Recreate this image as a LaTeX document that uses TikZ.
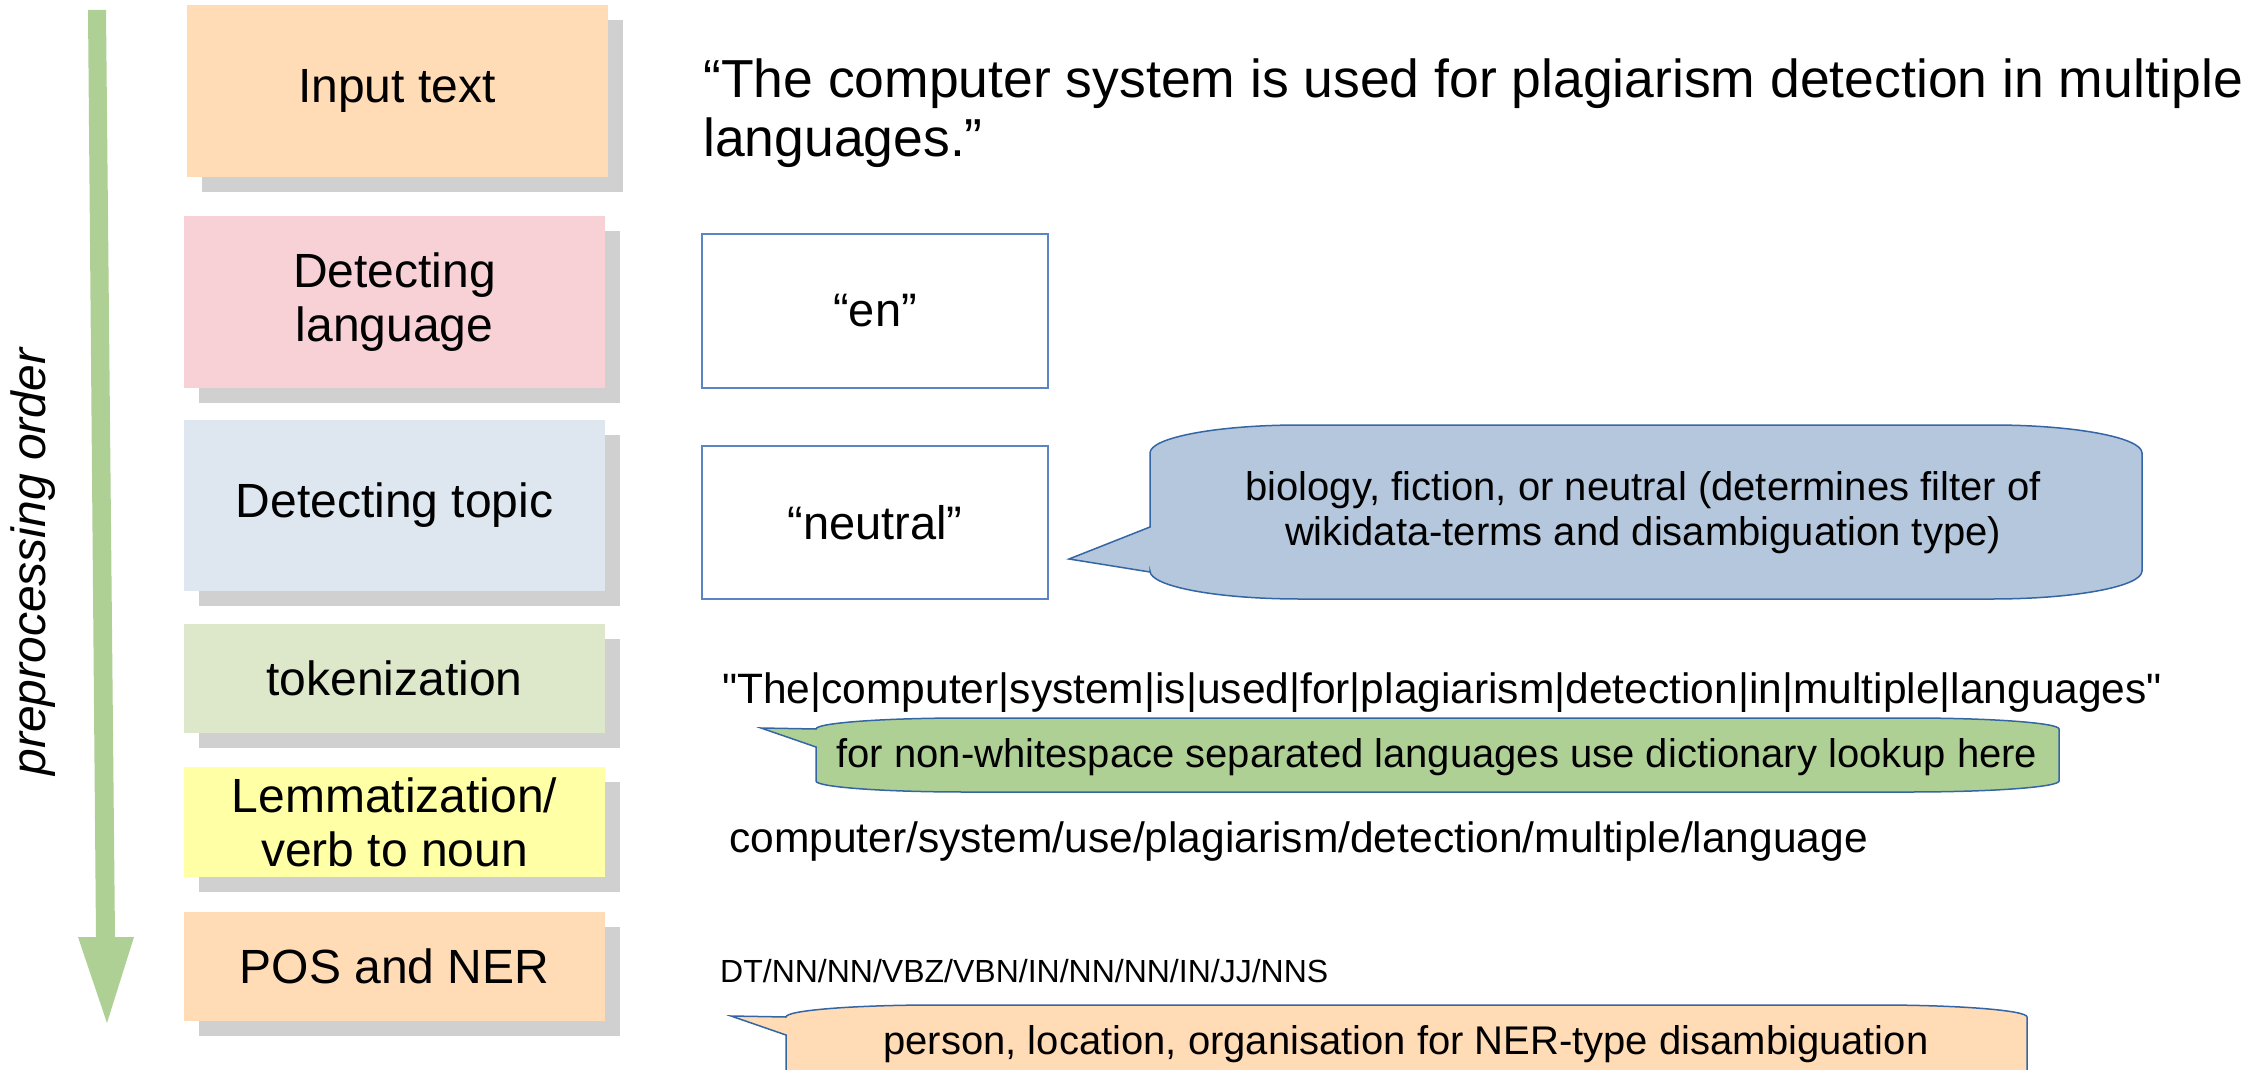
\documentclass[tikz,border=0pt]{standalone}
\usepackage{fontspec}
\setmainfont{Liberation Sans}
\newfontfamily\rawsans{Liberation Sans}[Ligatures=TeXOff]
\usetikzlibrary{shadows}
\definecolor{cpeach}{HTML}{FFDBB6}
\definecolor{cpink}{HTML}{F7D1D5}
\definecolor{cgrayblue}{HTML}{DEE6EF}
\definecolor{cpalegreen}{HTML}{DDE8CB}
\definecolor{cyellow}{HTML}{FFFFA6}
\definecolor{cshadow}{HTML}{D0D0D0}
\definecolor{carrow}{HTML}{AFD095}
\definecolor{cblue}{HTML}{B4C7DC}
\definecolor{cedge}{HTML}{3465A4}
\definecolor{cboxedge}{HTML}{5B84C4}
\begin{document}
\begin{tikzpicture}[x=1pt,y=-1pt,
  stage/.style={draw=none, minimum width=421pt, inner sep=0pt, align=center,
    font=\fontsize{48}{54}\selectfont,
    general shadow={fill=cshadow, shadow xshift=15pt, shadow yshift=-15pt}},
  valbox/.style={draw=cboxedge, line width=1.5pt, minimum width=346pt, inner sep=0pt,
    font=\fontsize{47}{54}\selectfont},
  bubble/.style={draw=cedge, line width=1.5pt},
  bigtext/.style={inner sep=0pt, font=\fontsize{53.5}{58}\selectfont},
  midtext/.style={inner sep=0pt, font=\fontsize{42.5}{49}\selectfont},
  notetext/.style={inner sep=0pt, align=center, font=\fontsize{40}{45}\selectfont},
]
\useasboundingbox (0,0) rectangle (2268,1070);
\clip (0,0) rectangle (2268,1070);

% order arrow
\coordinate (atop) at (97,10);
\coordinate (abot) at (107,1023);
\fill[carrow] (88,10) -- (106,10) -- (115,937) -- (134,937) -- (abot) -- (78,937) -- (96,937) -- cycle;
\node[inner sep=0pt, rotate=90, anchor=base, font=\fontsize{48}{54}\selectfont\itshape] (order) at (45,562) {preprocessing order};

% stage boxes
\node[stage, fill=cpeach, minimum height=172pt] (input) at (397,91) {Input text};
\node[stage, fill=cpink, minimum height=172pt] (lang) at (394.5,302) {Detecting\\language};
\node[stage, fill=cgrayblue, minimum height=171pt] (topic) at (394.5,505.5) {Detecting topic};
\node[stage, fill=cpalegreen, minimum height=109pt] (tok) at (394.5,678.5) {tokenization};
\node[stage, fill=cyellow, minimum height=110pt] (lemma) at (394.5,822) {Lemmatization/\\verb to noun};
\node[stage, fill=cpeach, minimum height=109pt] (pos) at (394.5,966.5) {POS and NER};

% input sentence
\node[bigtext, anchor=base west] (sent1) at (703,98) {“The computer system is used for plagiarism detection in multiple};
\node[bigtext, anchor=base west] (sent2) at (703,157) {languages.”};

% value boxes
\node[valbox, minimum height=154pt] (en) at (875,311) {“en”};
\node[valbox, minimum height=153pt] (neutral) at (875,522.5) {“neutral”};

% blue callout
\draw[bubble, fill=cblue] (1150,572) -- (1069,559) -- (1150,527) -- (1150,453)
  arc[start angle=180, end angle=90, x radius=150pt, y radius=28pt] -- (1992,425)
  arc[start angle=90, end angle=0, x radius=150pt, y radius=28pt] -- (2142,571)
  arc[start angle=0, end angle=-90, x radius=150pt, y radius=28pt] -- (1300,599)
  arc[start angle=270, end angle=180, x radius=150pt, y radius=28pt] -- cycle;
\node[notetext] (topicnote) at (1643,513) {biology, fiction, or neutral (determines filter of\\wikidata-terms and disambiguation type)};

% tokenization
\node[midtext, anchor=base west] (tokline) at (722,703) {\rawsans "The|computer|system|is|used|for|plagiarism|detection|in|multiple|languages"};
\draw[bubble, fill=carrow] (816,747) -- (761,728) -- (816,729)
  arc[start angle=180, end angle=90, x radius=150pt, y radius=11pt] -- (1909,718)
  arc[start angle=90, end angle=0, x radius=150pt, y radius=11pt] -- (2059,781)
  arc[start angle=0, end angle=-90, x radius=150pt, y radius=11pt] -- (966,792)
  arc[start angle=270, end angle=180, x radius=150pt, y radius=11pt] -- cycle;
\node[notetext, anchor=base] (toknote) at (1437,767) {for non-whitespace separated languages use dictionary lookup here};

% lemma
\node[midtext, anchor=base west] (lemline) at (729,852) {computer/system/use/plagiarism/detection/multiple/language};

% POS
\node[inner sep=0pt, anchor=base west, font=\fontsize{32}{36}\selectfont] (posline) at (720,982) {DT/NN/NN/VBZ/VBN/IN/NN/NN/IN/JJ/NNS};
\draw[bubble, fill=cpeach] (786,1035) -- (731,1016) -- (786,1017)
  arc[start angle=180, end angle=90, x radius=150pt, y radius=12pt] -- (1877,1005)
  arc[start angle=90, end angle=0, x radius=150pt, y radius=12pt] -- (2027,1078)
  arc[start angle=0, end angle=-90, x radius=150pt, y radius=12pt] -- (936,1090)
  arc[start angle=270, end angle=180, x radius=150pt, y radius=12pt] -- cycle;
\node[notetext, anchor=base] (posnote) at (1406,1054) {person, location, organisation for NER-type disambiguation};
\end{tikzpicture}
\end{document}
